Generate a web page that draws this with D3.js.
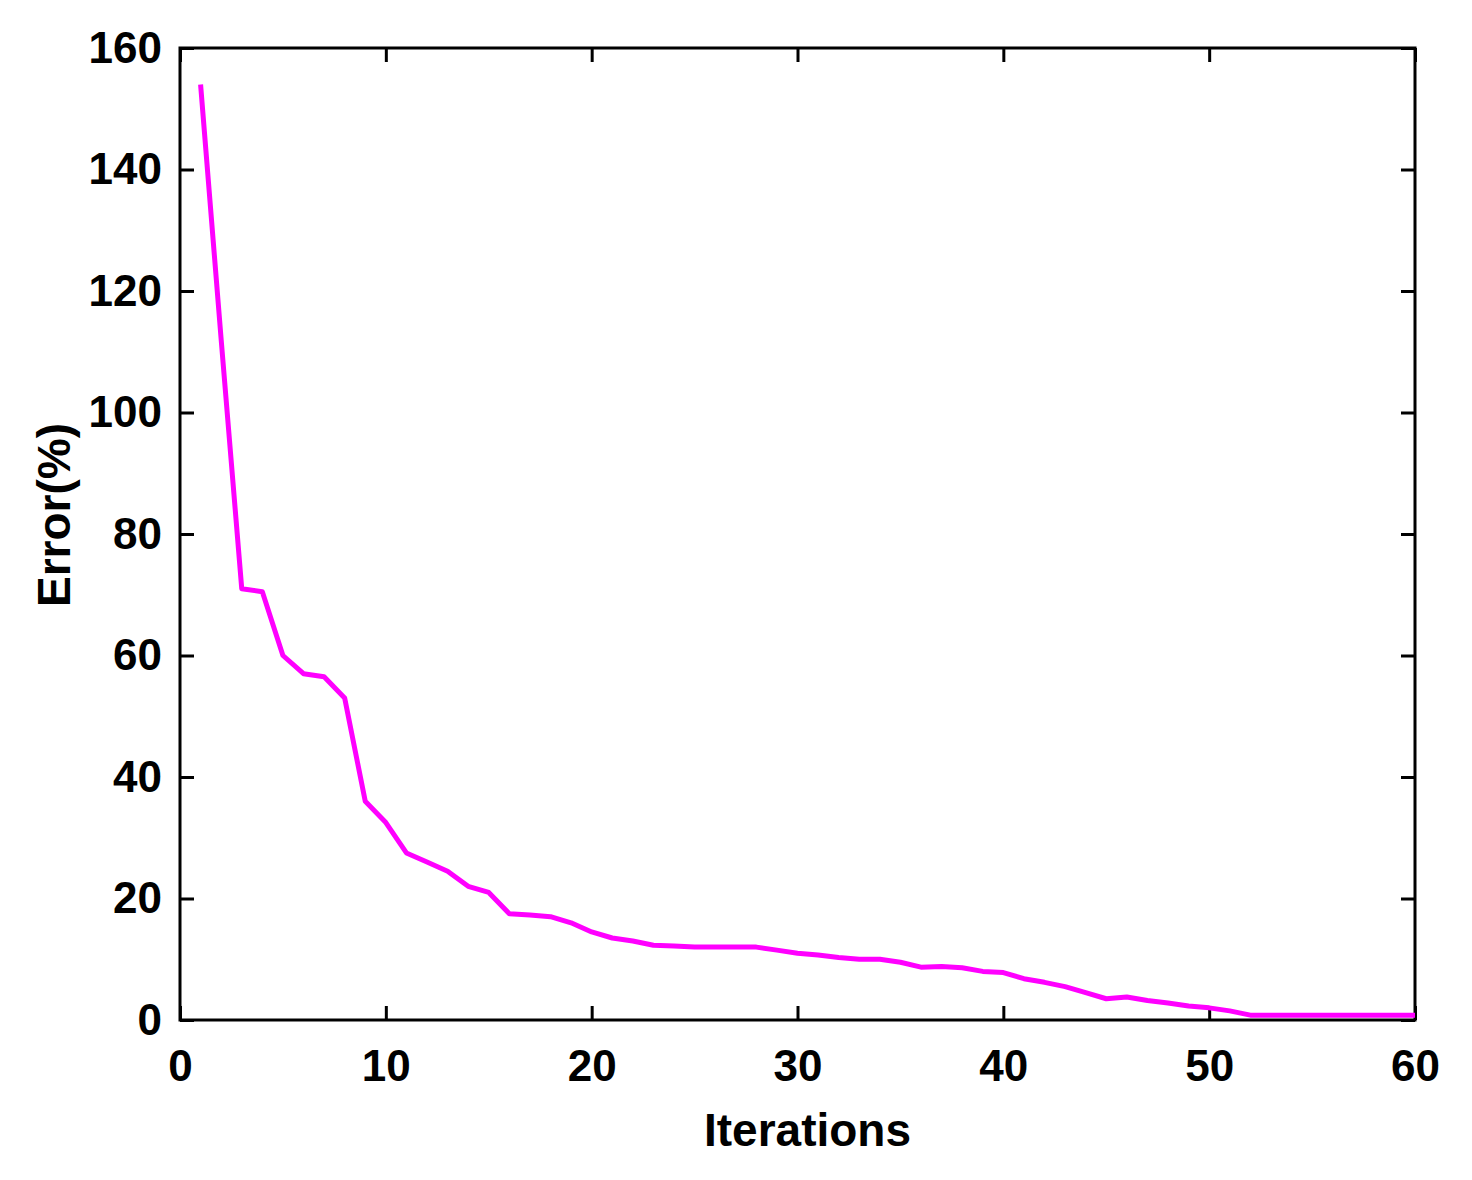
<!DOCTYPE html>
<html><head><meta charset="utf-8">
<script src="https://cdn.jsdelivr.net/npm/d3@7"></script>
<style>body{margin:0;background:#fff}text{font-family:"Liberation Sans",Arial,sans-serif;font-weight:bold}</style>
</head><body><svg id="c" width="1472" height="1180"></svg>
<script>
var iterations = d3.range(1, 61);
var errors = [154,112,71,70.5,60,57,56.5,53,36,32.5,27.5,26,24.5,22,21,17.5,17.3,17,16,14.5,
  13.5,13,12.3,12.2,12,12,12,12,11.5,11,10.7,10.3,10,10,9.5,8.7,8.8,8.6,8,7.8,
  6.8,6.2,5.5,4.5,3.5,3.8,3.2,2.8,2.3,2,1.5,0.8,0.8,0.8,0.8,0.8,0.8,0.8,0.8,0.8];
var xTicks = [0,10,20,30,40,50,60];
var yTicks = [0,20,40,60,80,100,120,140,160];

var svg = d3.select("#c");
var m = {l:180, r:1415, t:48, b:1020};
var x = d3.scaleLinear().domain([0,60]).range([m.l, m.r]);
var y = d3.scaleLinear().domain([0,160]).range([m.b, m.t]);

// box
svg.append("rect").attr("x", m.l).attr("y", m.t).attr("width", m.r-m.l).attr("height", m.b-m.t)
  .attr("fill", "none").attr("stroke", "#000").attr("stroke-width", 3);

function ax(g) { g.selectAll(".domain").remove(); g.selectAll("line").attr("stroke-width", 3); g.selectAll("text").attr("font-size", 44).attr("fill", "#000"); }
svg.append("g").attr("transform", "translate(0," + m.b + ")")
  .call(d3.axisBottom(x).tickValues(xTicks).tickSize(-14).tickPadding(30)).call(ax);
svg.append("g").attr("transform", "translate(0," + m.t + ")")
  .call(d3.axisTop(x).tickValues(xTicks).tickSize(-14).tickFormat("")).call(ax);
svg.append("g").attr("transform", "translate(" + m.l + ",0)")
  .call(d3.axisLeft(y).tickValues(yTicks).tickSize(-14).tickPadding(18)).call(ax);
svg.append("g").attr("transform", "translate(" + m.r + ",0)")
  .call(d3.axisRight(y).tickValues(yTicks).tickSize(-14).tickFormat("")).call(ax);

svg.append("path").datum(iterations)
  .attr("fill", "none").attr("stroke", "#ff00ff").attr("stroke-width", 5).attr("stroke-linejoin", "round")
  .attr("d", d3.line().x(function(d){ return x(d); }).y(function(d, i){ return y(errors[i]); }));

svg.append("text").attr("x", (m.l+m.r)/2 + 10).attr("y", 1146).attr("text-anchor", "middle")
  .attr("font-size", 46).text("Iterations");
svg.append("text").attr("transform", "translate(70,515) rotate(-90)")
  .attr("text-anchor", "middle").attr("font-size", 46).text("Error(%)");
</script></body></html>
